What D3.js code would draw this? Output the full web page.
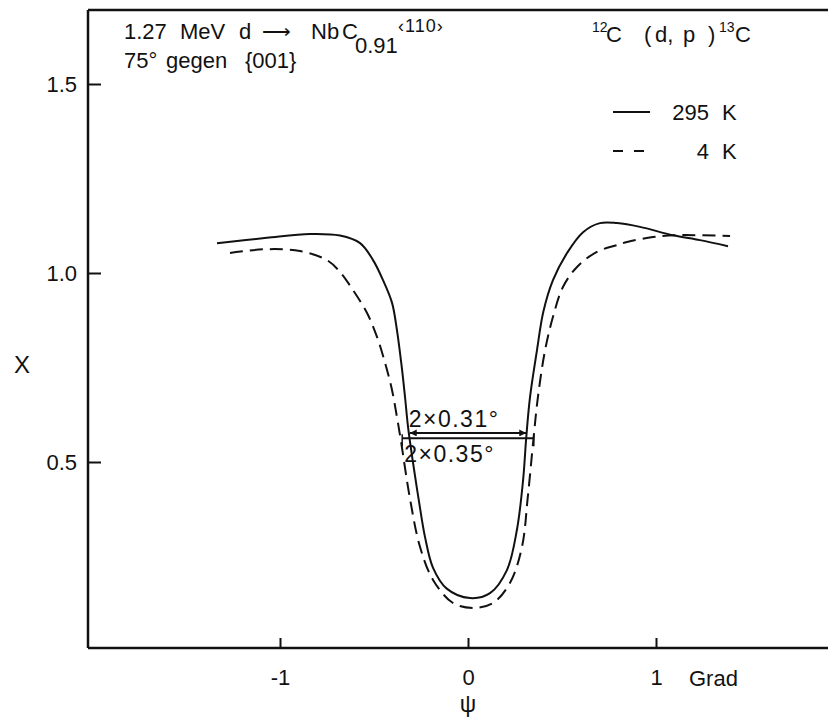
<!DOCTYPE html>
<html>
<head>
<meta charset="utf-8">
<script src="https://cdn.jsdelivr.net/npm/d3@7.9.0/dist/d3.min.js"></script>
<style>
  body { margin: 0; background: #fff; }
  svg { display: block; }
  text { font-family: "Liberation Sans", Arial, sans-serif; fill: #111; white-space: pre; }
</style>
</head>
<body>
<svg id="chart" width="828" height="718"></svg>
<script>
// chi vs psi, 295 K (solid)
const psi295 = [-1.335, -1.07, -0.84, -0.681, -0.574, -0.505, -0.452, -0.404, -0.378, -0.355, -0.335, -0.319, -0.293, -0.262, -0.228, -0.186, -0.113, 0.01, 0.117, 0.207, 0.26, 0.293, 0.31, 0.330, 0.367, 0.401, 0.452, 0.527, 0.612, 0.702, 0.793, 0.915, 1.09, 1.234, 1.383];
const chi295 = [1.079, 1.093, 1.103, 1.099, 1.079, 1.034, 0.981, 0.921, 0.849, 0.762, 0.672, 0.593, 0.50, 0.40, 0.30, 0.22, 0.165, 0.140, 0.153, 0.214, 0.320, 0.452, 0.566, 0.672, 0.796, 0.898, 0.981, 1.053, 1.108, 1.132, 1.132, 1.122, 1.100, 1.087, 1.071];

// chi vs psi, 4 K (dashed)
const psi4 = [-1.266, -1.07, -0.894, -0.75, -0.681, -0.612, -0.537, -0.484, -0.441, -0.404, -0.378, -0.358, -0.31, -0.255, -0.186, -0.08, 0.027, 0.133, 0.223, 0.287, 0.318, 0.348, 0.372, 0.410, 0.452, 0.505, 0.580, 0.686, 0.793, 0.846, 0.984, 1.11, 1.394];
const chi4 = [1.053, 1.063, 1.058, 1.034, 1.003, 0.955, 0.894, 0.831, 0.762, 0.690, 0.619, 0.560, 0.407, 0.275, 0.188, 0.127, 0.114, 0.127, 0.180, 0.275, 0.407, 0.560, 0.672, 0.796, 0.884, 0.963, 1.016, 1.056, 1.074, 1.082, 1.095, 1.100, 1.098];

// half widths (deg) and the chi level where they are marked
const halfWidths = [0.31, 0.35];
const halfLevels = [0.577, 0.563];
const widthLabels = ['2×0.31°', '2×0.35°'];

const xTicks = [-1, 0, 1];
const yTicks = [0.5, 1.0, 1.5];

const svg = d3.select('#chart');

let x = d3.scaleLinear().domain([-1, 1]).range([280, 656]);
let y = d3.scaleLinear().domain([0, 1.5]).range([651, 84]);

const frameL = 88, frameR = 828, frameT = 10, frameB = 648;

// frame: top line only, plus axes
svg.append('line')
  .attr('x1', frameL).attr('x2', frameR)
  .attr('y1', frameT).attr('y2', frameT)
  .attr('stroke', '#111').attr('stroke-width', 2.5);

let yAxis = svg.append('g')
  .attr('transform', `translate(${frameL},0)`)
  .call(d3.axisLeft(y).tickValues(yTicks).tickFormat(d3.format('.1f'))
    .tickSizeInner(-13).tickSizeOuter(0).tickPadding(11));
yAxis.select('.domain').attr('d', `M0,${frameT}V${frameB}`);

let xAxis = svg.append('g')
  .attr('transform', `translate(0,${frameB})`)
  .call(d3.axisBottom(x).tickValues(xTicks).tickFormat(d => String(d))
    .tickSizeInner(-10).tickSizeOuter(0).tickPadding(21));
xAxis.select('.domain').attr('d', `M${frameL},0H${frameR}`);

svg.selectAll('.domain').attr('stroke', '#111').attr('stroke-width', 2.5);
svg.selectAll('.tick line').attr('stroke', '#111').attr('stroke-width', 2);
svg.selectAll('.tick text')
  .attr('font-family', '"Liberation Sans", Arial, sans-serif')
  .attr('font-size', 22).attr('fill', '#111');

svg.append('text').attr('x', 689).attr('y', 686).attr('font-size', 22).text('Grad');
svg.append('text').attr('x', 468).attr('y', 712).attr('text-anchor', 'middle')
  .attr('font-size', 23).text('ψ');
svg.append('text').attr('x', 22).attr('y', 373).attr('text-anchor', 'middle')
  .attr('font-size', 24).text('X');

// curves
let line = d3.line()
  .x(d => x(d[0]))
  .y(d => y(d[1]))
  .curve(d3.curveCatmullRom.alpha(0.5));

svg.append('path')
  .datum(d3.zip(psi295, chi295))
  .attr('d', line)
  .attr('fill', 'none').attr('stroke', '#111').attr('stroke-width', 2);

svg.append('path')
  .datum(d3.zip(psi4, chi4))
  .attr('d', line)
  .attr('fill', 'none').attr('stroke', '#111').attr('stroke-width', 2)
  .attr('stroke-dasharray', '13,7');

// half-width markers
svg.append('defs').append('marker')
  .attr('id', 'arr').attr('viewBox', '0 0 10 10')
  .attr('refX', 10).attr('refY', 5)
  .attr('markerWidth', 10).attr('markerHeight', 7)
  .attr('markerUnits', 'userSpaceOnUse')
  .attr('orient', 'auto-start-reverse')
  .append('path').attr('d', 'M0,0L10,5L0,10Z').attr('fill', '#111');

halfWidths.forEach((w, i) => {
  let ly = y(halfLevels[i]);
  let l = svg.append('line')
    .attr('x1', x(-w)).attr('x2', x(w))
    .attr('y1', ly).attr('y2', ly)
    .attr('stroke', '#111').attr('stroke-width', 2);
  if (i === 0) {
    l.attr('marker-start', 'url(#arr)').attr('marker-end', 'url(#arr)');
  } else {
    // short end bars on the 4 K width line
    [-w, w].forEach(v => {
      svg.append('line')
        .attr('x1', x(v)).attr('x2', x(v))
        .attr('y1', ly - 4).attr('y2', ly + 8)
        .attr('stroke', '#111').attr('stroke-width', 1.5);
    });
  }
});

svg.append('text').attr('x', x(-0.31) - 1).attr('y', y(halfLevels[0]) - 6)
  .attr('font-size', 23).attr('letter-spacing', 1.5).text(widthLabels[0]);
svg.append('text').attr('x', x(-0.35) + 2).attr('y', y(halfLevels[1]) + 24)
  .attr('font-size', 23).attr('letter-spacing', 1.5).text(widthLabels[1]);

// title block
let t1 = svg.append('g').attr('font-size', 22);
t1.append('text').attr('x', 124).attr('y', 39).text('1.27');
t1.append('text').attr('x', 180).attr('y', 39).text('MeV');
t1.append('text').attr('x', 239).attr('y', 39).text('d');
t1.append('text').attr('x', 262).attr('y', 38).attr('font-family', '"DejaVu Sans", sans-serif')
  .attr('font-size', 20).text('⟶');
t1.append('text').attr('x', 311).attr('y', 39).text('Nb');
t1.append('text').attr('x', 342).attr('y', 39).text('C');
t1.append('text').attr('x', 355).attr('y', 53).text('0.91');
t1.append('text').attr('x', 398).attr('y', 32).attr('font-size', 18).attr('letter-spacing', 1).text('‹110›');

let t2 = svg.append('g').attr('font-size', 22);
t2.append('text').attr('x', 124).attr('y', 68).text('75°');
t2.append('text').attr('x', 166).attr('y', 68).text('gegen');
t2.append('text').attr('x', 245).attr('y', 68).text('{001}');

// reaction label
let t3 = svg.append('g').attr('font-size', 22);
t3.append('text').attr('x', 592).attr('y', 32).attr('font-size', 14).text('12');
t3.append('text').attr('x', 606).attr('y', 42).text('C');
t3.append('text').attr('x', 644).attr('y', 42).text('(');
t3.append('text').attr('x', 655).attr('y', 42).text('d,');
t3.append('text').attr('x', 683).attr('y', 42).text('p');
t3.append('text').attr('x', 708).attr('y', 42).text(')');
t3.append('text').attr('x', 719).attr('y', 32).attr('font-size', 14).text('13');
t3.append('text').attr('x', 735).attr('y', 42).text('C');

// legend
const legendItems = [
  { label: '295', dash: null, ly: 112 },
  { label: '4', dash: '10,11', ly: 151 }
];
legendItems.forEach(d => {
  svg.append('line')
    .attr('x1', 613).attr('x2', 650).attr('y1', d.ly).attr('y2', d.ly)
    .attr('stroke', '#111').attr('stroke-width', 2)
    .attr('stroke-dasharray', d.dash);
  svg.append('text').attr('x', 709).attr('y', d.ly + 8)
    .attr('text-anchor', 'end').attr('font-size', 22).text(d.label);
  svg.append('text').attr('x', 722).attr('y', d.ly + 8)
    .attr('font-size', 22).text('K');
});
</script>
</body>
</html>
